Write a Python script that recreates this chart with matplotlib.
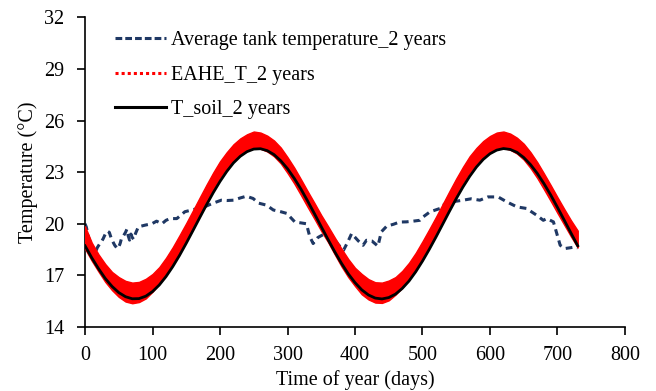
import matplotlib
matplotlib.use("Agg")
import matplotlib.pyplot as plt
from matplotlib.lines import Line2D

# ---- data -------------------------------------------------------------
days = [0, 10, 20, 30, 40, 50, 60, 70, 80, 90, 100, 110, 120, 130, 140, 150,
        160, 170, 180, 190, 200, 210, 220, 230, 240, 250, 260, 270, 280, 290,
        300, 310, 320, 330, 340, 350, 360, 370, 380, 390, 400, 410, 420, 430,
        440, 450, 460, 470, 480, 490, 500, 510, 520, 530, 540, 550, 560, 570,
        580, 590, 600, 610, 620, 630, 640, 650, 660, 670, 680, 690, 700, 710,
        720, 730]

t_soil = [18.72, 18.02, 17.39, 16.82, 16.36, 16.00, 15.76, 15.64, 15.65, 15.79,
          16.06, 16.44, 16.93, 17.51, 18.16, 18.87, 19.61, 20.36, 21.10, 21.81,
          22.46, 23.04, 23.54, 23.92, 24.19, 24.34, 24.36, 24.25, 24.02, 23.66,
          23.20, 22.64, 22.01, 21.31, 20.58, 19.83, 19.09, 18.37, 17.70, 17.09,
          16.58, 16.16, 15.86, 15.68, 15.63, 15.71, 15.91, 16.24, 16.67, 17.21,
          17.83, 18.51, 19.23, 19.98, 20.73, 21.46, 22.14, 22.76, 23.30, 23.74,
          24.07, 24.28, 24.37, 24.32, 24.15, 23.85, 23.44, 22.93, 22.33, 21.67,
          20.95, 20.21, 19.46, 18.72]

eahe_low = [18.55, 17.85, 17.22, 16.62, 16.14, 15.75, 15.48, 15.38, 15.45, 15.66,
            16.05, 16.50, 17.05, 17.71, 18.41, 19.12, 19.86, 20.61, 21.35, 22.06,
            22.71, 23.24, 23.69, 24.02, 24.24, 24.39, 24.36, 24.20, 23.92, 23.51,
            22.95, 22.34, 21.66, 20.96, 20.28, 19.58, 18.94, 18.22, 17.52, 16.90,
            16.38, 15.90, 15.60, 15.42, 15.40, 15.55, 15.88, 16.28, 16.78, 17.39,
            18.06, 18.76, 19.48, 20.23, 20.98, 21.71, 22.39, 23.01, 23.48, 23.87,
            24.15, 24.33, 24.40, 24.30, 24.08, 23.73, 23.24, 22.66, 22.00, 21.32,
            20.62, 19.94, 19.26, 18.62]

eahe_high = [19.85, 18.90, 18.22, 17.66, 17.20, 16.90, 16.68, 16.58, 16.62, 16.80,
             17.08, 17.48, 18.02, 18.64, 19.33, 20.04, 20.78, 21.53, 22.27, 22.98,
             23.63, 24.16, 24.62, 24.96, 25.20, 25.36, 25.30, 25.12, 24.84, 24.43,
             23.87, 23.26, 22.58, 21.88, 21.20, 20.50, 19.86, 19.20, 18.55, 17.95,
             17.44, 17.08, 16.78, 16.60, 16.58, 16.70, 16.90, 17.26, 17.73, 18.31,
             18.98, 19.68, 20.40, 21.15, 21.90, 22.63, 23.31, 23.93, 24.41, 24.81,
             25.10, 25.30, 25.36, 25.24, 25.00, 24.65, 24.16, 23.58, 22.92, 22.24,
             21.54, 20.86, 20.20, 19.60]

tank_days = [0, 2, 5, 8, 12, 15, 18, 22, 25, 27, 30, 33, 36, 39, 42, 44, 47,
             49, 52, 54, 57, 60, 62, 64, 66, 68, 70, 72, 75, 79, 89, 99, 106,
             114, 120, 126, 136, 148, 158, 168, 178, 190, 202, 210, 220, 230,
             239, 249, 257, 269, 279, 290, 299, 311, 320, 328, 333, 338, 345,
             351, 358, 365, 375, 383, 390, 395, 405, 412, 417, 425, 434, 439,
             447, 457, 466, 476, 486, 496, 501, 511, 526, 536, 548, 560, 572,
             585, 597, 612, 625, 640, 654, 669, 679, 684, 694, 699, 704, 711,
             718, 726, 730]

tank_temp = [20.0, 19.8, 19.24, 18.9, 18.5, 18.27, 18.6, 18.85, 19.0, 19.14,
             19.4, 19.57, 19.5, 19.14, 18.9, 18.75, 18.6, 18.56, 18.85, 19.14,
             19.3, 19.5, 19.68, 19.3, 19.05, 19.4, 19.2, 19.1, 19.45, 19.82,
             19.92, 20.0, 20.15, 20.0, 20.2, 20.3, 20.3, 20.7, 20.8, 20.9, 21.0,
             21.2, 21.37, 21.35, 21.37, 21.5, 21.6, 21.47, 21.2, 21.08, 20.8,
             20.7, 20.6, 20.1, 20.05, 20.0, 19.25, 18.85, 19.2, 19.33, 19.43,
             19.33, 18.8, 18.46, 19.0, 19.43, 19.0, 18.75, 19.04, 19.0, 18.7,
             19.53, 19.86, 19.97, 20.1, 20.11, 20.15, 20.2, 20.4, 20.69, 20.89,
             21.27, 21.3, 21.37, 21.45, 21.37, 21.56, 21.56, 21.27, 20.98, 20.89,
             20.5, 20.2, 20.3, 20.11, 19.43, 18.75, 18.56, 18.6, 18.65, 18.6]

labels = ["Average tank temperature_2 years", "EAHE_T_2 years", "T_soil_2 years"]
x_ticks = [0, 100, 200, 300, 400, 500, 600, 700, 800]
y_ticks = [14, 17, 20, 23, 26, 29, 32]

navy = "#1F3864"
red = "#FF0000"
fs = 14.5

# ---- figure -----------------------------------------------------------
plt.rcParams["font.family"] = ["Liberation Serif", "DejaVu Serif"]
fig = plt.figure(figsize=(6.56, 3.91), dpi=100)
ax = fig.add_axes([0.1296, 0.1637, 0.8231, 0.7921])

ax.plot(tank_days, tank_temp, color=navy, lw=2.2, ls=(0, (2.2, 1.6)),
        zorder=2)
ax.fill_between(days, eahe_low, eahe_high, color=red, lw=1.0, edgecolor=red,
                zorder=3)
ax.plot(days, t_soil, color="black", lw=2.0, zorder=4)

ax.set_xlim(0, 800)
ax.set_ylim(14, 32)
ax.set_xticks(x_ticks)
ax.set_yticks(y_ticks)
ax.tick_params(direction="out", length=6, width=1.2, labelsize=fs,
               colors="black")
ax.tick_params(axis="y", pad=9)
ax.tick_params(axis="x", pad=8)
for side in ("top", "right"):
    ax.spines[side].set_visible(False)
for side in ("left", "bottom"):
    ax.spines[side].set_linewidth(1.2)

ax.set_xlabel("Time of year (days)", fontsize=fs, labelpad=3)
ax.set_ylabel("Temperature (°C)", fontsize=fs, labelpad=4)

handles = [
    Line2D([], [], color=navy, lw=2.2, ls=(0, (2.2, 1.0))),
    Line2D([], [], color=red, lw=2.2, ls=(0, (1, 1))),
    Line2D([], [], color="black", lw=2.2),
]
ax.legend(handles, labels, loc="upper left", bbox_to_anchor=(0.03, 1.0),
          frameon=False, fontsize=fs, handlelength=2.5, handletextpad=0.25,
          labelspacing=0.75, borderaxespad=0.3)

fig.savefig("out.png", dpi=100)
